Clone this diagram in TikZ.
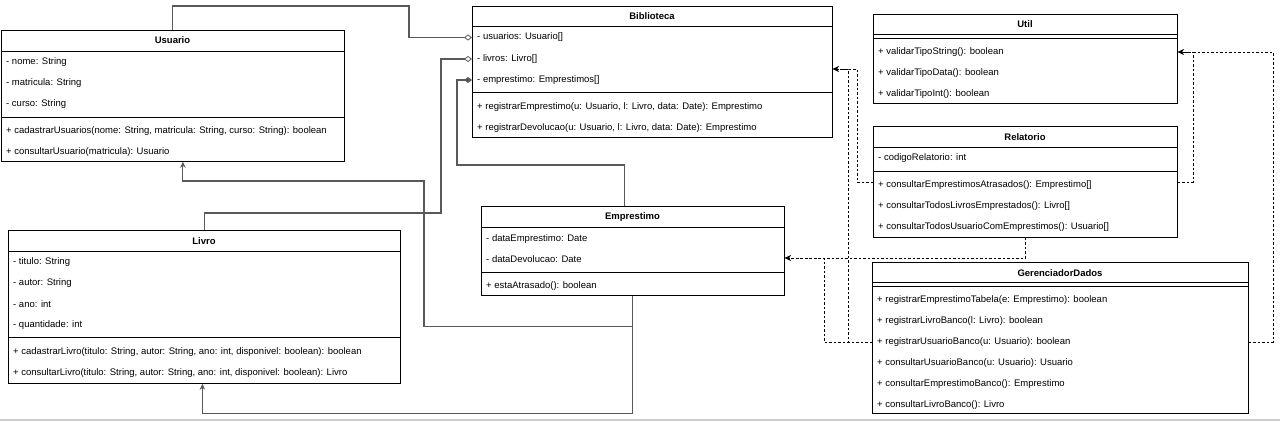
\documentclass[tikz,border=0pt]{standalone}
\usepackage{fontspec}
\setmainfont{Liberation Sans}
\usetikzlibrary{arrows.meta}

\begin{document}
\begin{tikzpicture}[x=1pt,y=-1pt, % one unit = one pixel, y going down
	> = {Stealth[length=6pt,width=5.5pt]}, % arrow head style
	font=\fontsize{9.5}{11}\selectfont,
	classbox/.style={draw,anchor=north west,inner sep=0pt,line width=0.8pt},
	classname/.style={font=\fontsize{9.5}{11}\selectfont\bfseries,inner sep=0pt},
	member/.style={anchor=west,inner sep=0pt},
	divider/.style={line width=0.7pt},
	assoc/.style={draw=black!65,line width=1.1pt},
	dep/.style={->,dash pattern=on 2.5pt off 2pt,line width=0.8pt},
	aggr/.style={-{Diamond[open,length=8pt,width=6pt,line width=0.8pt]}},
	comp/.style={-{Diamond[length=8pt,width=6pt]}}]
	\useasboundingbox (0,0) rectangle (1280,421);

	% Usuario
	\node[classbox,minimum width=343pt,minimum height=131pt] (usuario) at (1,30) {};
	\node[classname] (usuario-t) at (172.5,40.5) {Usuario};
	\draw[divider] (usuario.west |- 0,51) -- (usuario.east |- 0,51);
	\draw[divider] (usuario.west |- 0,117) -- (usuario.east |- 0,117);
	\node[member] (usu-nome) at (6,62) {- nome: String};
	\node[member] (usu-matricula) at (6,83) {- matricula: String};
	\node[member] (usu-curso) at (6,104) {- curso: String};
	\node[member] (usu-cadastrar) at (6,131) {+ cadastrarUsuarios(nome: String, matricula: String, curso: String): boolean};
	\node[member] (usu-consultar) at (6,152) {+ consultarUsuario(matricula): Usuario};

	% Biblioteca
	\node[classbox,minimum width=360pt,minimum height=131pt] (biblioteca) at (472,6) {};
	\node[classname] (biblioteca-t) at (652,16.5) {Biblioteca};
	\draw[divider] (biblioteca.west |- 0,26) -- (biblioteca.east |- 0,26);
	\draw[divider] (biblioteca.west |- 0,92) -- (biblioteca.east |- 0,92);
	\node[member] (bib-usuarios) at (477,37.5) {- usuarios: Usuario[]};
	\node[member] (bib-livros) at (477,59) {- livros: Livro[]};
	\node[member] (bib-emprestimo) at (477,80) {- emprestimo: Emprestimos[]};
	\node[member] (bib-registrar) at (477,107) {+ registrarEmprestimo(u: Usuario, l: Livro, data: Date): Emprestimo};
	\node[member] (bib-devolucao) at (477,128) {+ registrarDevolucao(u: Usuario, l: Livro, data: Date): Emprestimo};

	% Livro
	\node[classbox,minimum width=392pt,minimum height=153pt] (livro) at (8,230) {};
	\node[classname] (livro-t) at (204,241) {Livro};
	\draw[divider] (livro.west |- 0,251) -- (livro.east |- 0,251);
	\draw[divider] (livro.west |- 0,337) -- (livro.east |- 0,337);
	\node[member] (liv-titulo) at (13,262) {- titulo: String};
	\node[member] (liv-autor) at (13,283) {- autor: String};
	\node[member] (liv-ano) at (13,304) {- ano: int};
	\node[member] (liv-quantidade) at (13,325) {- quantidade: int};
	\node[member] (liv-cadastrar) at (13,352) {+ cadastrarLivro(titulo: String, autor: String, ano: int, disponivel: boolean): boolean};
	\node[member] (liv-consultar) at (13,373) {+ consultarLivro(titulo: String, autor: String, ano: int, disponivel: boolean): Livro};

	% Emprestimo
	\node[classbox,minimum width=303pt,minimum height=89pt] (emprestimo) at (481,206) {};
	\node[classname] (emprestimo-t) at (632.5,217) {Emprestimo};
	\draw[divider] (emprestimo.west |- 0,227) -- (emprestimo.east |- 0,227);
	\draw[divider] (emprestimo.west |- 0,272) -- (emprestimo.east |- 0,272);
	\node[member] (emp-data) at (486,239) {- dataEmprestimo: Date};
	\node[member] (emp-devolucao) at (486,259) {- dataDevolucao: Date};
	\node[member] (emp-atrasado) at (486,286) {+ estaAtrasado(): boolean};

	% Util
	\node[classbox,minimum width=304pt,minimum height=89pt] (util) at (873,14) {};
	\node[classname] (util-t) at (1025,24.5) {Util};
	\draw[divider] (util.west |- 0,34) -- (util.east |- 0,34);
	\draw[divider] (util.west |- 0,38) -- (util.east |- 0,38);
	\node[member] (util-string) at (878,52) {+ validarTipoString(): boolean};
	\node[member] (util-data) at (878,73) {+ validarTipoData(): boolean};
	\node[member] (util-int) at (878,94) {+ validarTipoInt(): boolean};

	% Relatorio
	\node[classbox,minimum width=304pt,minimum height=111pt] (relatorio) at (873,126) {};
	\node[classname] (relatorio-t) at (1025,137) {Relatorio};
	\draw[divider] (relatorio.west |- 0,147) -- (relatorio.east |- 0,147);
	\draw[divider] (relatorio.west |- 0,171) -- (relatorio.east |- 0,171);
	\node[member] (rel-codigo) at (878,158) {- codigoRelatorio: int};
	\node[member] (rel-atrasados) at (878,185) {+ consultarEmprestimosAtrasados(): Emprestimo[]};
	\node[member] (rel-livros) at (878,206) {+ consultarTodosLivrosEmprestados(): Livro[]};
	\node[member] (rel-usuarios) at (878,227) {+ consultarTodosUsuarioComEmprestimos(): Usuario[]};

	% GerenciadorDados
	\node[classbox,minimum width=376pt,minimum height=151pt] (gerenciador) at (872,262) {};
	\node[classname] (gerenciador-t) at (1060,273) {GerenciadorDados};
	\draw[divider] (gerenciador.west |- 0,282) -- (gerenciador.east |- 0,282);
	\draw[divider] (gerenciador.west |- 0,286) -- (gerenciador.east |- 0,286);
	\node[member] (ger-emprestimo) at (877,300.5) {+ registrarEmprestimoTabela(e: Emprestimo): boolean};
	\node[member] (ger-livro) at (877,321) {+ registrarLivroBanco(l: Livro): boolean};
	\node[member] (ger-usuario) at (877,342) {+ registrarUsuarioBanco(u: Usuario): boolean};
	\node[member] (ger-consusuario) at (877,363) {+ consultarUsuarioBanco(u: Usuario): Usuario};
	\node[member] (ger-consemprestimo) at (877,384) {+ consultarEmprestimoBanco(): Emprestimo};
	\node[member] (ger-conslivro) at (877,405) {+ consultarLivroBanco(): Livro};

	% aggregation / composition into Biblioteca
	\draw[assoc,aggr] (usuario.north) |- (409,6) |- (biblioteca.west |- bib-usuarios);
	\draw[assoc,aggr] (livro.north) |- (441,213) |- (biblioteca.west |- bib-livros);
	\draw[assoc,comp] ([xshift=-8pt]emprestimo.north) |- (457,165) |- (biblioteca.west |- bib-emprestimo);

	% associations out of Emprestimo
	\draw[assoc,->] (emprestimo.south) -- ++(0,31) -| (424,181) -| ([xshift=10pt]usuario.south);
	\draw[assoc,->] (emprestimo.south) -- ++(0,118) -| ([xshift=-2pt]livro.south);

	% dependencies
	\draw[dep] (relatorio.west |- 0,182) -| (857,69) -- (biblioteca.east |- 0,69);
	\draw[dep] (relatorio.east |- 0,182) -| (1193,52) -- (util.east |- util-string);
	\draw[dep] (relatorio.south) |- (emprestimo.east |- 0,258);
	\draw[dep] (gerenciador.west |- ger-usuario) -| (848,69) -- (biblioteca.east |- 0,69);
	\draw[dep] (gerenciador.west |- ger-usuario) -| (824,258) -- (emprestimo.east |- 0,258);
	\draw[dep] (gerenciador.east |- ger-usuario) -| (1273,52) -- (util.east |- util-string);

	\draw[black!20,line width=1.5pt] (0,420) -- (1280,420);
\end{tikzpicture}
\end{document}
